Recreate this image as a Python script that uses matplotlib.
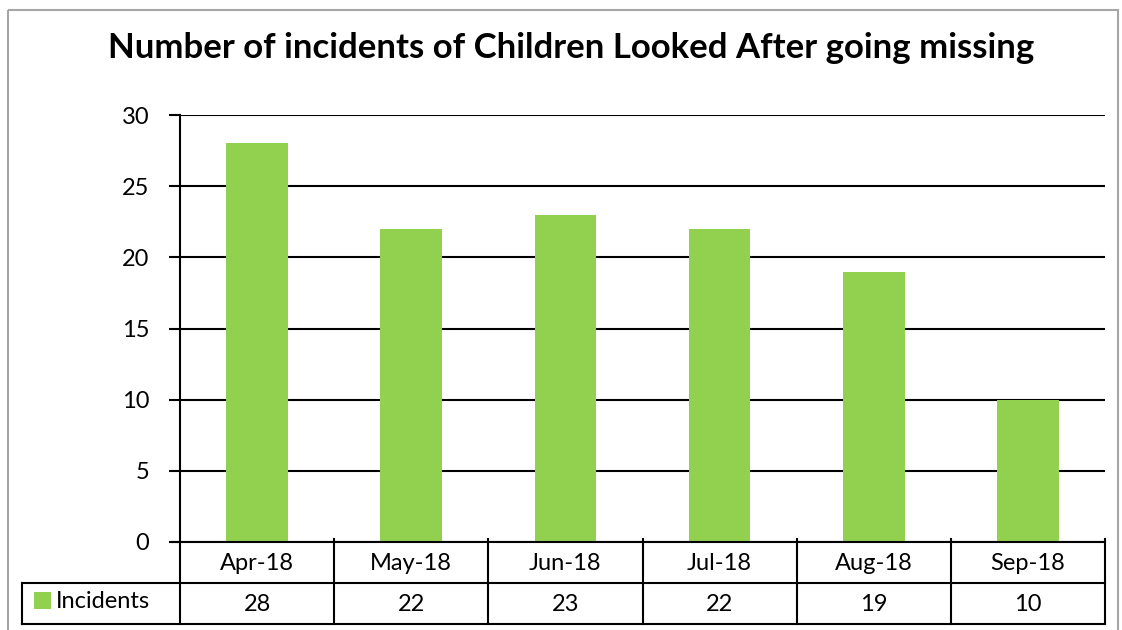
import matplotlib
matplotlib.use("Agg")
import matplotlib.pyplot as plt
from matplotlib.lines import Line2D
from matplotlib.patches import Rectangle
import matplotlib.transforms as mtransforms

categories = ["Apr-18", "May-18", "Jun-18", "Jul-18", "Aug-18", "Sep-18"]
incidents = [28, 22, 23, 22, 19, 10]
series_name = "Incidents"
title = "Number of incidents of Children Looked After going missing"
yticks = [0, 5, 10, 15, 20, 25, 30]

W, H = 1122, 630
fig = plt.figure(figsize=(W / 100, H / 100), dpi=100)
plt.rcParams['font.family'] = ['Lato', 'DejaVu Sans']

FS = 17
green = "#92D050"
left, right, top, bottom = 180, 1105, 115, 542
ax = fig.add_axes([left / W, 1 - bottom / H, (right - left) / W, (bottom - top) / H])
x = list(range(len(categories)))
ax.bar(x, incidents, width=0.4, color=green, zorder=3)
ax.set_xlim(-0.5, len(categories) - 0.5)
ax.set_ylim(0, 30)
ax.set_yticks(yticks)
ax.set_yticklabels([str(v) for v in yticks], fontsize=FS)
ax.tick_params(axis='y', length=8, width=1.5, pad=14)
ax.set_xticks([])
for s in ['top', 'right', 'bottom']:
    ax.spines[s].set_visible(False)
ax.spines['left'].set_linewidth(1.5)
ax.yaxis.grid(True, color='black', linewidth=1.5, zorder=0)
ax.set_axisbelow(True)

# figure-pixel transform
px = mtransforms.Affine2D().scale(1 / W, -1 / H).translate(0, 1) + fig.transFigure
blend = mtransforms.blended_transform_factory(ax.transData, px)

def hline(x0, x1, y, trans=px):
    fig.add_artist(Line2D([x0, x1], [y, y], color='black', lw=1.5, transform=trans))

def vline(xx, y0, y1, trans=px):
    fig.add_artist(Line2D([xx, xx], [y0, y1], color='black', lw=1.5, transform=trans))

# outer chart border
fig.add_artist(Rectangle((8, 10), 1110, 640, transform=px, fill=False,
                         edgecolor='#A6A6A6', lw=1.5))

# data table
row1, row2 = 583, 624
hline(172, right, bottom)
hline(22, right, row1)
hline(22, right, row2)
vline(left, bottom, row2)
vline(22, row1, row2)
for i in range(1, len(categories) + 1):
    vline(i - 0.5, bottom - 3, row2, trans=blend)
for i, (c, v) in enumerate(zip(categories, incidents)):
    fig.text(0, 0, c, transform=blend, fontsize=FS, ha='center', va='center')
    fig.texts[-1].set_position((i, (bottom + row1) / 2 + 1))
    fig.text(0, 0, str(v), transform=blend, fontsize=FS, ha='center', va='center')
    fig.texts[-1].set_position((i, (row1 + row2) / 2 + 1))

fig.add_artist(Rectangle((34, 592), 17, 17, transform=px, facecolor=green, edgecolor='none'))
fig.text(56 / W, 1 - 602 / H, series_name, fontsize=FS, ha='left', va='center')

fig.text(571 / W, 1 - 48 / H, title, fontsize=25, fontweight='bold', ha='center', va='center')

fig.savefig("out.png", dpi=100)
